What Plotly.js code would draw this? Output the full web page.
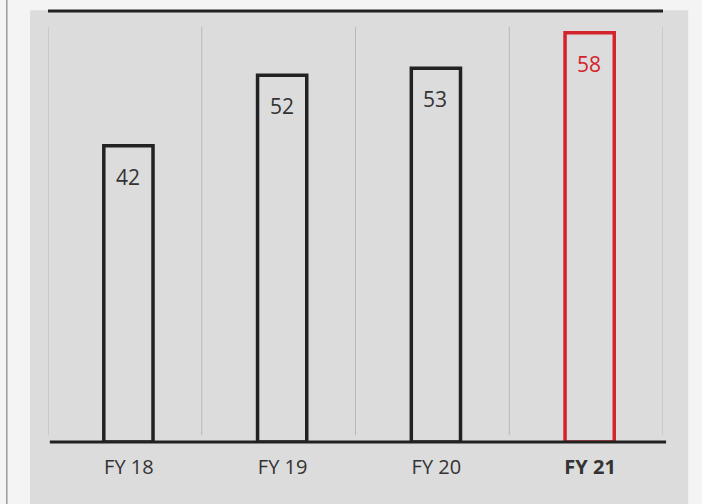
<!DOCTYPE html>
<html>
<head>
<meta charset="utf-8">
<script src="https://cdn.plot.ly/plotly-3.0.1.min.js"></script>
<style>
  html, body { margin: 0; padding: 0; background: #f4f4f4; }
  #chart { width: 702px; height: 504px; }
</style>
</head>
<body>
<div id="chart"></div>
<script>
// fiscal years and values
var years = ["FY 18", "FY 19", "FY 20", "FY 21"];
var tickLabels = ["FY 18", "FY 19", "FY 20", "<b>FY 21</b>"];
var values = [42, 52, 53, 58];
var barColors = ["#222222", "#222222", "#222222", "#d3232b"];

var trace = {
    x: years,
    y: values,
    type: "bar",
    width: 0.32,
    offset: -0.137,
    marker: {
        color: "rgba(0,0,0,0)",
        line: {color: barColors, width: 3.5}
    },
    hoverinfo: "none"
};

// value labels sit a little below the top of each bar
var labels = years.map(function(yr, i) {
    return {
        x: yr, y: values[i], text: String(values[i]),
        xshift: 3, yshift: -31, showarrow: false,
        font: {family: "Open Sans", size: 21, color: barColors[i] == "#222222" ? "#333333" : "#d3232b"}
    };
});

var shapes = [
    // grey panel behind the chart
    {type: "rect", xref: "paper", yref: "paper", x0: -0.029, x1: 1.041, y0: -0.15, y1: 1.002,
     fillcolor: "#dcdcdd", line: {width: 0}, layer: "below"},
    // thin line at far left of page
    {type: "line", xref: "paper", yref: "paper", x0: -0.067, x1: -0.067, y0: -0.15, y1: 1.03,
     line: {color: "#9a9a9a", width: 1.5}, layer: "below"},
    // top rule
    {type: "line", xref: "paper", yref: "paper", x0: 0, x1: 1, y0: 1, y1: 1,
     line: {color: "#222222", width: 3}}
];
// vertical separators between the years
for (var k = 0; k <= years.length; k++) {
    shapes.push({type: "line", xref: "x", yref: "paper", x0: k - 0.5, x1: k - 0.5, y0: 0.016, y1: 0.963,
        line: {color: "#b8b8b8", width: 1}, layer: "below"});
}
// baseline
shapes.push({type: "line", xref: "paper", yref: "paper", x0: 0.003, x1: 1.005, y0: 0, y1: 0,
    line: {color: "#222222", width: 3}});

var layout = {
    width: 702,
    height: 504,
    margin: {l: 48, r: 39, t: 11, b: 62},
    paper_bgcolor: "#f4f4f4",
    plot_bgcolor: "rgba(0,0,0,0)",
    showlegend: false,
    xaxis: {
        type: "category",
        range: [-0.5, 3.5],
        tickvals: years,
        ticktext: tickLabels,
        showgrid: false,
        showline: false,
        zeroline: false,
        ticks: "",
        ticklabelstandoff: 11,
        ticklabelshift: 4,
        tickfont: {family: "Open Sans", size: 20, color: "#333333"}
    },
    yaxis: {
        range: [0, 61.1],
        showgrid: false,
        showline: false,
        zeroline: false,
        showticklabels: false,
        ticks: ""
    },
    annotations: labels,
    shapes: shapes
};

Plotly.newPlot("chart", [trace], layout, {displayModeBar: false, staticPlot: true});
</script>
</body>
</html>
